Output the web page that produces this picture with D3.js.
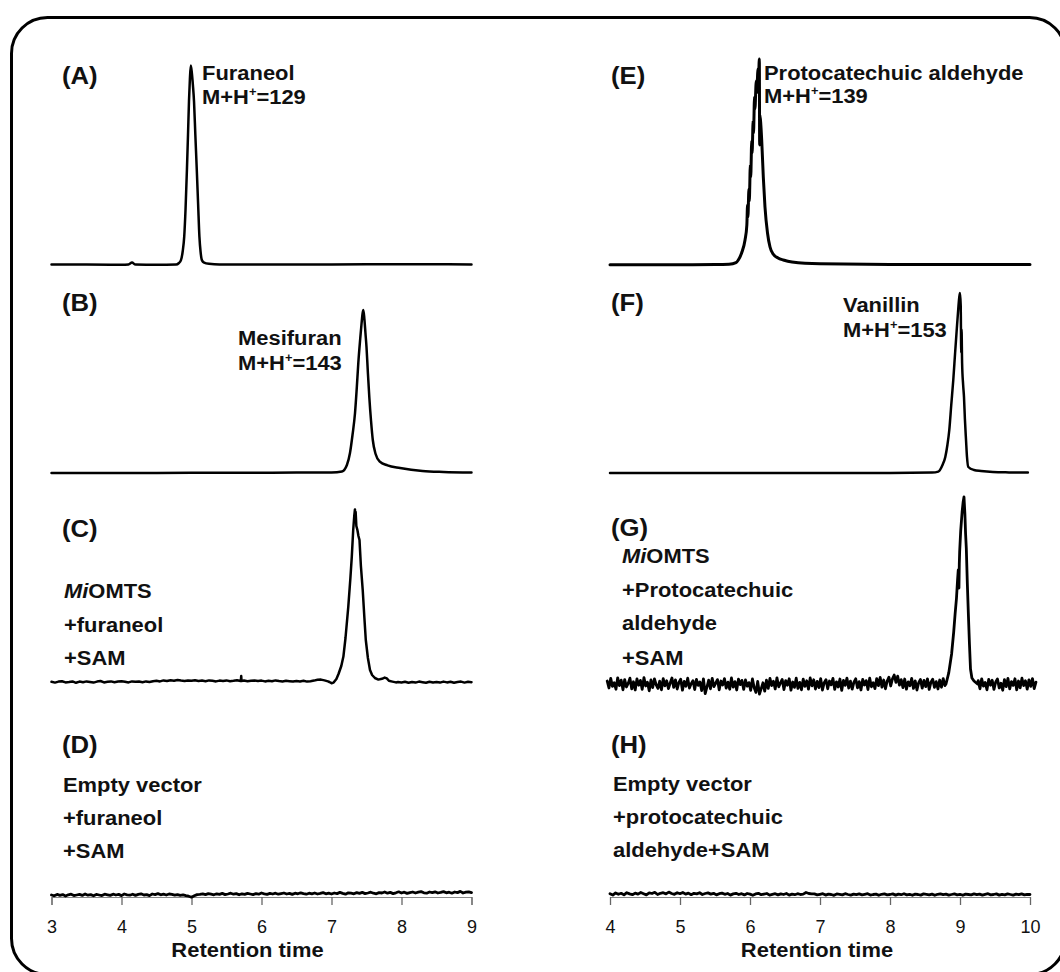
<!DOCTYPE html>
<html>
<head>
<meta charset="utf-8">
<script src="https://cdn.jsdelivr.net/npm/d3@7"></script>
<style>
  html, body { margin: 0; padding: 0; background: #fff; }
  svg { display: block; }
  text { font-family: "Liberation Sans", Arial, sans-serif; fill: #111; }
</style>
</head>
<body>
<svg id="fig" width="1060" height="972"></svg>
<script>
// ---------- axis ticks ----------
const leftTicks = [3, 4, 5, 6, 7, 8, 9];
const rightTicks = [4, 5, 6, 7, 8, 9, 10];

// ---------- labels ----------
const panelTags = ["(A)", "(B)", "(C)", "(D)", "(E)", "(F)", "(G)", "(H)"];
const compounds = ["Furaneol", "Mesifuran", "Protocatechuic aldehyde", "Vanillin"];
const protonatedMass = [129, 143, 139, 153];

// ---------- standards: [retention time (min), relative intensity] ----------
const furaneolStd = [
  [3.00,0.3],[3.5,0.2],[4.0,0.1],[4.1,0.3],[4.15,1.2],[4.2,0.2],[4.5,0.1],[4.78,0.2],[4.82,1],
  [4.848,2.3],[4.875,7],[4.896,14.2],[4.915,28],[4.935,48],[4.95,65],[4.964,81.8],[4.977,93],
  [4.99,99.7],[5.005,96],[5.02,90],[5.036,81.8],[5.055,65],[5.075,48],[5.095,30],[5.113,14.2],
  [5.13,6.5],[5.15,2.3],[5.18,1.2],[5.25,0.6],[5.4,0.3],[6,0.3],[7,0.3],[8,0.4],[8.5,0.4],[9,0.3]
];
const mesifuranStd = [
  [3,0],[4,0],[5,0.1],[6,0.1],[6.5,0.2],[7.0,0.3],[7.15,0.8],[7.22,4],[7.264,10],[7.30,19],
  [7.336,30],[7.36,42],[7.383,55],[7.41,67],[7.43,75],[7.445,80],[7.455,81.5],[7.47,77],
  [7.485,70],[7.50,63],[7.52,50],[7.54,38],[7.565,26],[7.59,16.5],[7.63,9.5],[7.69,5.7],
  [7.8,3.8],[7.98,2.5],[8.3,1],[8.6,0.5],[9,0.2]
];
const protocatechuicStd = [
  [4,0.1],[5,0.1],[5.5,0.2],[5.7,0.4],[5.8,1.2],[5.833,2.5],[5.88,6],[5.929,12.5],[5.955,20],
  [5.965,30],[5.97,24],[5.985,38],[5.99,32],[6.005,50],[6.01,44],[6.025,62],[6.03,56],
  [6.045,72],[6.05,66],[6.065,84],[6.07,78],[6.09,92],[6.095,86],[6.115,98],[6.12,90],
  [6.133,103],[6.138,60],[6.142,75],[6.155,70],[6.167,62.5],[6.19,44],[6.214,29],[6.25,16],
  [6.286,9],[6.33,5.5],[6.4,3.5],[6.476,2.5],[6.6,1.5],[7,0.6],[8,0.3],[9,0.2],[10,0.2]
];
const vanillinStd = [
  [4,0],[6,0],[8,0],[8.6,0.2],[8.69,0.7],[8.75,4],[8.79,8],[8.82,14],[8.847,21.5],[8.875,34],
  [8.904,46.5],[8.93,60],[8.953,71.5],[8.975,82],[8.99,88],[9.0,90],[9.01,84],[9.018,60],
  [9.022,72],[9.03,55],[9.045,44],[9.057,38],[9.07,27],[9.086,16.5],[9.1,8],[9.119,3],
  [9.2,1.5],[9.3,1],[9.47,0.5],[9.7,0.3],[9.97,0.2]
];

// ---------- MiOMTS + furaneol + SAM ----------
// baseline sampled every 0.05 min from 3.00 to 6.95, and from 7.95 to 9.00
const mioFurBefore = [
  0.1,-0.3,0.2,0.4,-0.2,0.0,0.3,-0.4,0.2,-0.1,
  0.3,0.0,-0.3,0.2,0.5,-0.2,0.1,0.3,-0.1,0.2,
  0.4,0.1,-0.2,0.3,0.1,0.2,-0.1,0.3,0.0,0.4,
  0.6,0.3,0.8,0.5,0.9,0.6,1.0,0.7,0.5,0.8,
  0.6,0.9,0.5,0.7,0.4,0.8,0.6,0.3,0.7,0.5,
  0.8,0.4,0.6,0.9,0.5,0.7,0.4,0.6,0.8,0.5,
  0.7,0.3,0.6,0.4,0.8,0.5,0.3,0.6,0.4,0.2,
  0.5,0.3,0.6,0.2,0.4,0.7,1.1,1.2,0.8,0.3
];
const mioFurAfter = [
  0.0,-0.2,0.1,-0.4,0.0,-0.3,0.2,-0.1,-0.4,0.1,-0.2,
  0.0,-0.3,0.2,-0.2,0.1,-0.4,0.0,0.2,-0.3,0.1,-0.1
];
const mioFurSpike = [[5.705,0.6],[5.71,3],[5.715,0.5]];
const mioFurPeak = [
  [6.97,0.0],[7.0,-0.6],[7.03,-0.3],[7.07,1.5],[7.1,4],[7.14,8],[7.17,12.7],[7.2,22],
  [7.24,37.7],[7.27,52],[7.29,62.7],[7.31,76],[7.325,83],[7.335,86.3],[7.34,80],[7.345,85],
  [7.355,78],[7.37,76],[7.385,73],[7.40,71],[7.42,58],[7.446,46],[7.47,32],[7.49,21],
  [7.52,12],[7.55,6],[7.58,3.5],[7.62,2],[7.67,1.2],[7.72,1.6],[7.76,2.2],[7.79,1.8],
  [7.82,0.6],[7.87,0.2],[7.92,-0.2]
];

// ---------- empty vector + furaneol + SAM (every 0.04 min, 3.00 - 9.00) ----------
const emptyFur = [
  0.0,-0.4,0.3,-0.2,0.2,-0.5,0.1,0.4,-0.3,0.0,
  0.3,-0.2,0.5,-0.1,0.2,-0.4,0.3,0.0,-0.3,0.4,
  0.1,-0.2,0.4,0.0,0.3,-0.3,0.5,0.1,-0.1,0.4,
  -0.2,0.3,0.6,0.0,0.2,-0.3,0.5,0.2,0.7,0.1,
  0.4,0.0,0.5,0.3,-0.1,0.2,-0.2,0.1,-0.3,-0.6,
  -1.1,-0.4,0.2,0.3,0.6,0.2,0.7,0.4,0.1,0.6,
  0.3,0.8,0.2,0.5,0.9,0.4,0.7,0.1,0.6,0.3,
  0.8,0.5,0.2,0.7,0.4,1.0,0.6,0.3,0.8,0.5,
  0.9,0.4,0.7,1.0,0.5,0.8,0.3,0.9,0.6,1.1,
  0.7,0.4,0.9,0.6,1.0,0.5,0.8,1.2,0.6,0.9,
  0.5,1.0,0.7,1.3,0.8,0.4,1.1,0.9,0.6,1.2,
  0.8,1.3,0.7,1.0,1.4,0.9,0.6,1.2,1.0,1.5,
  0.9,1.3,0.7,1.1,1.6,1.0,1.4,0.8,1.2,1.5,
  1.0,1.4,1.7,1.1,0.9,1.5,1.2,1.6,1.0,1.3,
  1.7,1.1,1.4,0.9,1.5,1.2,1.8,1.0,1.4,1.6,1.2
];

// ---------- MiOMTS + protocatechuic aldehyde + SAM ----------
// baseline every 0.025 min from 3.96 to 8.785, and from 9.26 to 10.085
const mioProtoBefore = [
  1.5,-2.0,2.8,-1.2,0.6,-2.6,3.1,-0.8,1.9,-2.9,
  2.2,-1.5,0.3,2.9,-2.4,1.1,-3.0,2.5,-0.6,1.8,
  -2.7,3.2,-1.0,0.9,-3.4,2.0,-1.8,2.6,-0.4,-2.2,
  1.4,-2.9,2.7,-0.9,1.6,-2.3,0.5,3.0,-1.7,2.1,
  -2.5,0.8,2.4,-3.1,1.3,-1.1,2.9,-2.0,0.2,1.7,
  -2.8,2.3,-0.7,1.0,-3.3,2.6,-4.8,-1.5,1.9,-2.4,
  2.8,-1.3,0.4,2.2,-2.9,1.5,-0.5,2.7,-2.1,0.9,
  -2.6,3.0,-1.6,1.2,-3.0,2.4,-0.3,1.8,-2.7,2.0,
  -1.1,0.7,-3.2,2.5,-1.9,-4.2,1.3,-5.0,-2.3,0.6,
  -3.6,1.9,-2.2,2.8,-0.8,1.4,-2.5,3.1,-1.4,0.5,
  2.3,-2.8,1.7,-0.6,2.6,-3.1,1.0,-1.7,2.9,-2.2,
  0.8,-2.9,2.4,-1.2,1.6,-2.6,3.0,-0.9,2.1,-2.5,
  1.3,-1.8,2.7,-3.0,0.7,2.2,-2.4,1.5,-0.4,2.8,
  -2.7,1.1,-1.5,2.5,-3.2,1.8,-0.7,2.9,-2.0,1.4,
  -2.6,0.9,2.6,-1.9,1.2,-3.0,2.3,-0.5,1.7,-2.8,
  2.9,-1.4,0.6,-2.3,2.7,-0.8,3.3,-1.6,2.0,-2.4,
  1.5,3.4,-1.0,2.6,4.5,0.8,3.9,-0.6,2.2,-1.8,
  2.5,-2.6,1.1,-0.9,2.8,-2.2,1.6,-3.0,0.7,2.3,
  -2.1,1.8,-1.3,2.6,-2.7,0.9,2.4,-1.7,1.2,-2.5,
  2.0,-1.6,2.7,-0.8
];
const mioProtoAfter = [
  1.7,-2.4,2.6,-1.1,0.8,-2.9,2.3,-0.6,
  1.9,-2.7,1.0,2.5,-2.0,0.4,-3.1,2.2,-1.3,2.8,
  -2.4,1.2,-0.7,2.6,-2.9,1.5,-1.9,2.9,-0.8,1.6,
  -2.6,2.1,-1.2,2.7,-2.3,0.9
];
const mioProtoPeak = [
  [8.80,0],[8.84,5.7],[8.88,15],[8.91,26],[8.93,35],[8.95,43],[8.965,52],[8.975,57],
  [8.985,48],[8.99,60],[8.995,66],[9.01,76.6],[9.03,86],[9.045,91],[9.057,93.5],[9.07,85],
  [9.08,75],[9.09,68],[9.105,50],[9.12,34.5],[9.135,20],[9.15,7.5],[9.17,3],[9.2,1.5],[9.25,0]
];

// ---------- empty vector + protocatechuic aldehyde + SAM (every 0.04 min, 4.00 - 10.00) ----------
const emptyProto = [
  0.4,-0.3,0.8,0.1,0.6,-0.2,0.9,0.3,-0.1,0.7,
  0.2,1.0,0.4,-0.2,0.8,0.5,1.1,0.0,0.6,0.9,
  0.3,1.2,0.5,0.1,0.9,0.4,1.0,0.2,0.7,-0.1,
  0.6,0.3,0.9,0.0,0.5,0.8,0.2,0.6,-0.2,0.4,
  0.7,0.1,0.5,-0.3,0.3,0.6,0.0,0.4,-0.2,0.5,
  0.2,-0.4,0.3,0.6,-0.1,0.2,0.5,-0.3,0.1,0.4,
  -0.2,0.3,0.0,0.5,-0.3,0.2,-0.1,0.4,0.0,0.2,
  1.0,0.5,0.3,0.3,-0.2,0.1,0.4,-0.3,0.2,0.0,
  -0.4,0.3,0.1,-0.2,0.4,0.0,-0.3,0.2,-0.1,0.3,
  -0.2,0.1,0.4,-0.3,0.0,0.2,-0.4,0.1,0.3,-0.2,
  0.0,0.3,-0.3,0.2,-0.1,0.4,-0.2,0.1,-0.4,0.2,
  0.0,-0.3,0.3,0.1,-0.2,0.2,-0.4,0.1,0.3,-0.1,
  0.2,-0.3,0.0,0.3,-0.2,0.1,-0.4,0.2,0.0,-0.2,
  0.3,-0.1,0.2,-0.3,0.1,0.4,-0.2,0.0,0.3,-0.3,
  0.1,-0.2,0.3,0.0,-0.3,0.2,-0.1,0.3,-0.2,0.1,0.0
];

// ---------- assembling sampled baselines with peak segments ----------
function sampled(values, start, step) {
  return values.map((v, i) => [start + i * step, v]);
}
function merge(...parts) {
  return parts.flat().sort((a, b) => a[0] - b[0]);
}

const traceC = merge(sampled(mioFurBefore, 3.0, 0.05), mioFurSpike, mioFurPeak, sampled(mioFurAfter, 7.95, 0.05));
const traceD = sampled(emptyFur, 3.0, 0.04);
const traceG = merge(sampled(mioProtoBefore, 3.96, 0.025), mioProtoPeak, sampled(mioProtoAfter, 9.26, 0.025));
const traceH = sampled(emptyProto, 4.0, 0.04);

// ---------- drawing ----------
const svg = d3.select("#fig");
const SX = 1.07;               // lettering is slightly wide
const BOLD = 20.5, TAG = 24;

// rounded outer frame
svg.append("rect")
  .attr("x", 11.5).attr("y", 17.5).attr("width", 1054).attr("height", 957)
  .attr("rx", 36).attr("ry", 36)
  .attr("fill", "none").attr("stroke", "#000").attr("stroke-width", 3);

const xLeft = d3.scaleLinear().domain([3, 9]).range([51.5, 471.5]);
const xRight = d3.scaleLinear().domain([4, 10]).range([610, 1030]);
const AXIS_Y = 897;

function drawAxis(x, ticks, titleX) {
  const g = svg.append("g").attr("transform", `translate(0,${AXIS_Y})`)
    .call(d3.axisBottom(x).tickValues(ticks).tickSize(8).tickPadding(15).tickFormat(d3.format("d")));
  g.attr("font-size", 18).attr("font-family", "'Liberation Sans', Arial, sans-serif");
  g.select(".domain").attr("stroke", "#888").attr("stroke-width", 1);
  g.selectAll(".tick line").attr("stroke", "#666").attr("stroke-width", 1.3);
  g.selectAll(".tick text").attr("fill", "#222");
  svg.append("text")
    .attr("transform", `translate(${titleX},957) scale(${SX},1)`)
    .attr("text-anchor", "middle").attr("font-weight", "bold").attr("font-size", BOLD)
    .text("Retention time");
}
drawAxis(xLeft, leftTicks, 247.5);
drawAxis(xRight, rightTicks, 817);

function drawTrace(points, x, base, width, smooth) {
  const y = d3.scaleLinear().domain([0, 100]).range([base, base - 200]);
  const line = d3.line().x(d => x(d[0])).y(d => y(d[1]))
    .curve(smooth ? d3.curveMonotoneX : d3.curveLinear);
  svg.append("path").datum(points)
    .attr("d", line).attr("fill", "none").attr("stroke", "#000")
    .attr("stroke-width", width).attr("stroke-linejoin", "round").attr("stroke-linecap", "round");
}

drawTrace(furaneolStd, xLeft, 265, 2.5, true);
drawTrace(mesifuranStd, xLeft, 473, 2.5, true);
drawTrace(traceC, xLeft, 682, 2.5, false);
drawTrace(traceD, xLeft, 895, 2.8, false);
drawTrace(protocatechuicStd, xRight, 265, 3.0, true);
drawTrace(vanillinStd, xRight, 473, 2.5, true);
drawTrace(traceG, xRight, 684, 2.8, false);
drawTrace(traceH, xRight, 894.5, 2.8, false);

// ---------- lettering ----------
function write(x, y, size, parts) {
  const t = svg.append("text")
    .attr("transform", `translate(${x},${y}) scale(${SX},1)`)
    .attr("font-size", size).attr("font-weight", "bold");
  parts.forEach(p => {
    const s = t.append("tspan").text(p.t !== undefined ? p.t : p);
    if (p.italic) s.attr("font-style", "italic");
    if (p.dy) s.attr("dy", p.dy);
    if (p.size) s.attr("font-size", p.size);
  });
  return t;
}
function massLine(x, y, mass) {
  write(x, y, BOLD, ["M+H", { t: "+", size: 12, dy: -8 }, { t: "=" + mass, dy: 8 }]);
}

// panel tags
const tagPos = [[62, 84], [62, 311], [62, 537], [62, 753], [611, 84], [611, 311], [611, 536], [611, 753]];
panelTags.forEach((tag, i) => write(tagPos[i][0], tagPos[i][1], TAG, [tag]));

// standards
write(202, 80, BOLD, [compounds[0]]);  massLine(202, 104, protonatedMass[0]);
write(238, 345, BOLD, [compounds[1]]); massLine(238, 370, protonatedMass[1]);
write(764, 80, BOLD, [compounds[2]]);  massLine(764, 103, protonatedMass[2]);
write(843, 312, BOLD, [compounds[3]]); massLine(843, 337, protonatedMass[3]);

// reactions
write(64, 598, BOLD, [{ t: "Mi", italic: true }, "OMTS"]);
write(64, 632, BOLD, ["+furaneol"]);
write(64, 665, BOLD, ["+SAM"]);

write(63, 792, BOLD, ["Empty vector"]);
write(63, 825, BOLD, ["+furaneol"]);
write(63, 858, BOLD, ["+SAM"]);

write(622, 563, BOLD, [{ t: "Mi", italic: true }, "OMTS"]);
write(622, 597, BOLD, ["+Protocatechuic"]);
write(622, 630, BOLD, ["aldehyde"]);
write(622, 665, BOLD, ["+SAM"]);

write(613, 791, BOLD, ["Empty vector"]);
write(613, 824, BOLD, ["+protocatechuic"]);
write(613, 857, BOLD, ["aldehyde+SAM"]);
</script>
</body>
</html>
